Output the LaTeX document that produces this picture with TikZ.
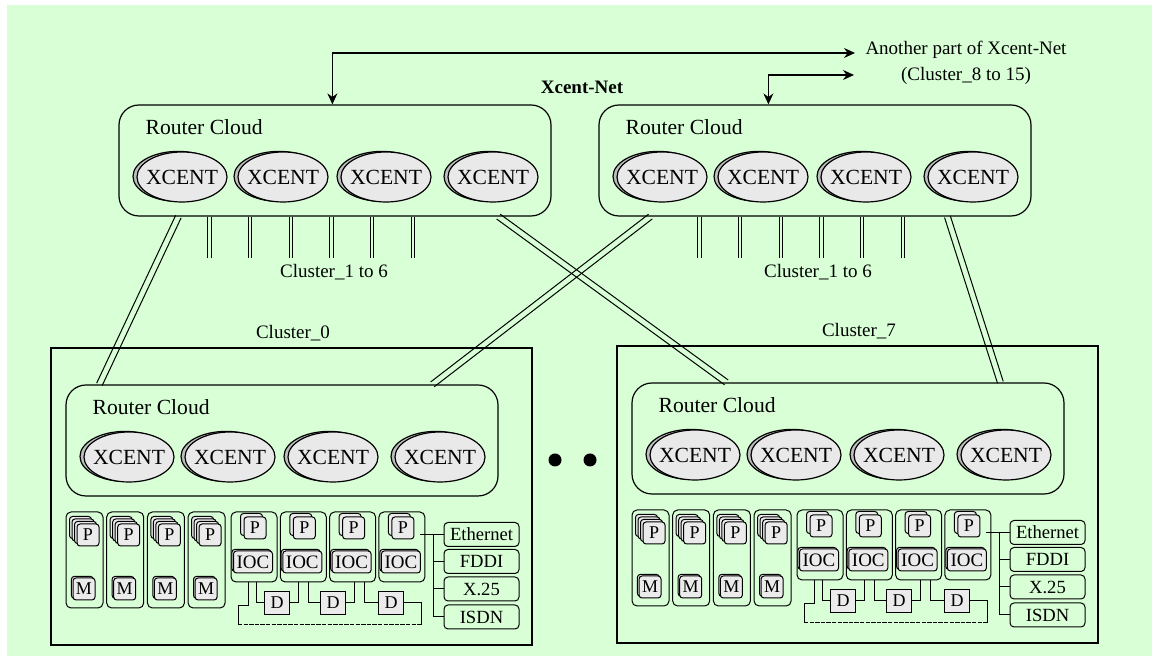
\documentclass[tikz,border=0pt]{standalone}
\usepackage{fontspec}
\setmainfont{Liberation Serif}
\usetikzlibrary{shapes.geometric,shadows,calc,arrows.meta}
\definecolor{bgc}{RGB}{217,255,215}
\definecolor{ellf}{RGB}{233,233,233}
\definecolor{shf}{RGB}{190,190,190}
\definecolor{boxf}{RGB}{235,235,235}
\tikzset{
 rcbox/.style={draw, rounded corners=10pt, line width=0.6pt, minimum width=216pt, minimum height=55.5pt, inner sep=0pt},
 rclab/.style={font=\fontsize{10.8}{12}\selectfont, inner sep=0pt},
 xc/.style={ellipse, draw, fill=ellf, line width=0.6pt, minimum width=45pt, minimum height=25pt, inner xsep=-2.4pt, inner ysep=0pt, font=\fontsize{10.8}{12}\selectfont,
   copy shadow={shadow xshift=-2pt, shadow yshift=0.3pt, fill=shf, draw=black, line width=0.6pt}},
 lbl/.style={font=\fontsize{9.5}{13}\selectfont, inner sep=0pt},
 clbox/.style={draw, line width=0.6pt, minimum width=240.5pt, minimum height=148.5pt, inner sep=0pt},
 colbox/.style={draw, rounded corners=2.5pt, line width=0.5pt, inner sep=0pt},
 sbox/.style={draw, fill=boxf, rounded corners=1.5pt, line width=0.5pt, inner sep=0pt, minimum width=11pt, minimum height=11pt, font=\fontsize{9}{9}\selectfont},
 shd/.style={copy shadow={shadow xshift=-#1, shadow yshift=#1, fill=boxf, draw=black, line width=0.5pt}},
 iocbox/.style={sbox, minimum width=19.5pt, minimum height=11pt, font=\fontsize{9.5}{9.5}\selectfont, shd=0.8pt},
 dbox/.style={sbox, sharp corners, minimum width=12.5pt, minimum height=11.5pt},
 netbox/.style={draw, rounded corners=2pt, line width=0.5pt, inner sep=0pt, minimum width=37.5pt, minimum height=12pt, font=\fontsize{9.3}{9.3}\selectfont},
 dblv/.style={draw, double=bgc, double distance=1.15pt, line width=0.5pt},
 wire/.style={draw, line width=0.5pt},
}
% a pair of parallel lines between two points (no masking at crossings)
\newcommand{\dpair}[2]{%
  \draw[line width=0.5pt] ($#1!1.5pt!90:#2$) -- ($#2!1.5pt!-90:#1$);
  \draw[line width=0.5pt] ($#1!1.5pt!-90:#2$) -- ($#2!1.5pt!90:#1$);}
\newcommand{\rcloud}[3]{%
 \begin{scope}[shift={(#2,#3)}]
  \node[rcbox] (#1rc) at (216,55.5) {};
  \node[rclab, anchor=west] (#1rcl) at (26,22) {Router Cloud};
  \foreach \i/\xx in {1/63,2/164,3/267,4/374}{
    \node[xc] (#1x\i) at (\xx,72) {XCENT};
  }
 \end{scope}}
\newcommand{\clusterblk}[4]{%
 \begin{scope}[shift={(#2,#3)}]
  \node[clbox] (#1box) at (291.5,496.5) {};
  \node[lbl] (#1lab) at (293,333) {#4};
  \rcloud{#1}{66}{385}
  \foreach \i in {1,2,3,4}{
    \pgfmathsetmacro{\cx}{66+40.7*(\i-1)}
    \node[colbox, minimum width=18.5pt, minimum height=48pt] (#1pm\i) at (\cx+18.5,560) {};
    \node[sbox, shd=3.75pt, shd=2.5pt, shd=1.25pt] (#1pp\i) at (\cx+22,535) {P};
    \node[sbox, shd=0.8pt] (#1m\i) at (\cx+18,589) {M};
    \pgfmathsetmacro{\ix}{231+49.3*(\i-1)}
    \node[colbox, minimum width=23pt, minimum height=35pt] (#1c\i) at (\ix+23,547) {};
    \node[sbox, shd=1.75pt] (#1ip\i) at (\ix+24,528) {P};
    \node[iocbox] (#1ioc\i) at (\ix+22,562) {IOC};
  }
  \node[dbox] (#1d1) at (277,603) {D};
  \node[dbox] (#1d2) at (333,603) {D};
  \node[dbox] (#1d3) at (391,603) {D};
  \coordinate (#1bl) at (238,625);
  \coordinate (#1br) at (421,625);
  \draw[wire] (#1d1.west) -| ($(#1c1.south west)+(26,0)$);
  \draw[wire] (#1d1.east) -| ($(#1c2.south west)+(19,0)$);
  \draw[wire] (#1d2.west) -| ($(#1c2.south west)+(29,0)$);
  \draw[wire] (#1d2.east) -| ($(#1c3.south west)+(25,0)$);
  \draw[wire] (#1d3.west) -| ($(#1c3.south west)+(35,0)$);
  \draw[wire] (#1d3.east) -| (#1br);
  \draw[wire] ($(#1c1.south west)+(18,0)$) -- ++(0,23) -| (#1bl);
  \draw[wire, dash pattern=on 2.2pt off 0.6pt] (#1bl) -- (#1br);
  \node[netbox] (#1eth) at (481.5,534.5) {Ethernet};
  \node[netbox] (#1fddi) at (481.5,561.5) {FDDI};
  \node[netbox] (#1x25) at (481.5,589) {X.25};
  \node[netbox] (#1isdn) at (481.5,617) {ISDN};
  \coordinate (#1nb) at ($(#1eth.west)+(-10,0)$);
  \draw[wire] ($(#1eth.west -| #1c4.east)+(-5,0)$) -- (#1eth.west);
  \draw[wire] (#1nb) |- (#1isdn.west);
  \draw[wire] (#1nb |- #1fddi.west) -- (#1fddi.west);
  \draw[wire] (#1nb |- #1x25.west) -- (#1x25.west);
 \end{scope}}
\begin{document}
\begin{tikzpicture}[x=0.5pt,y=-0.5pt, line width=0.6pt, >={Stealth[length=5.5pt,width=5pt,inset=1.8pt]}]
\useasboundingbox (0,0) rectangle (1152,656);
\fill[white] (0,0) rectangle (1152,656);
\fill[bgc] (7,5) rectangle (1152,656);
\rcloud{A}{119}{105}
\rcloud{B}{599}{105}
\clusterblk{L}{0}{0}{Cluster\_0}
\clusterblk{R}{566}{-2}{Cluster\_7}
% links to clusters 1-6
\foreach \k in {0,...,5}{
  \draw[dblv] ($(Arc.south west)+({91+40.7*\k},0)$) -- ++(0,41);
  \draw[dblv] ($(Brc.south west)+({101+40.7*\k},0)$) -- ++(0,41);
}
\node[lbl] (c16a) at (334,272) {Cluster\_1 to 6};
\node[lbl] (c16b) at (818,272) {Cluster\_1 to 6};
% cross links
\coordinate (e1a) at ($(Arc.south west)+(60,0)$);
\coordinate (e1b) at ($(Lrc.north west)+(34,0)$);
\coordinate (e2a) at ($(Arc.south west)+(380,0)$);
\coordinate (e2b) at ($(Rrc.north west)+(95,0)$);
\coordinate (e3a) at ($(Brc.south west)+(52,0)$);
\coordinate (e3b) at ($(Lrc.north west)+(367,0)$);
\coordinate (e4a) at ($(Brc.south west)+(349,0)$);
\coordinate (e4b) at ($(Rrc.north west)+(369,0)$);
\dpair{(e1a)}{(e1b)}
\dpair{(e2a)}{(e2b)}
\dpair{(e3a)}{(e3b)}
\dpair{(e4a)}{(e4b)}
% title and outside link
\node[lbl, font={\fontsize{9.5}{13}\selectfont\bfseries}] (title) at (582,87) {Xcent-Net};
\node[lbl, align=center] (another) at (966,63) {Another part of Xcent-Net\\(Cluster\_8 to 15)};
\coordinate (a1) at (855,53);
\coordinate (a2) at (854,75);
\draw[<->] ($(Arc.north west)+(214,0)$) |- (a1);
\draw[<->] ($(Brc.north west)+(170,0)$) |- (a2);
% dots
\node[circle, fill=black, inner sep=0pt, minimum size=6.5pt] (dot1) at (555,460) {};
\node[circle, fill=black, inner sep=0pt, minimum size=6.5pt] (dot2) at (590,460) {};
\end{tikzpicture}
\end{document}
